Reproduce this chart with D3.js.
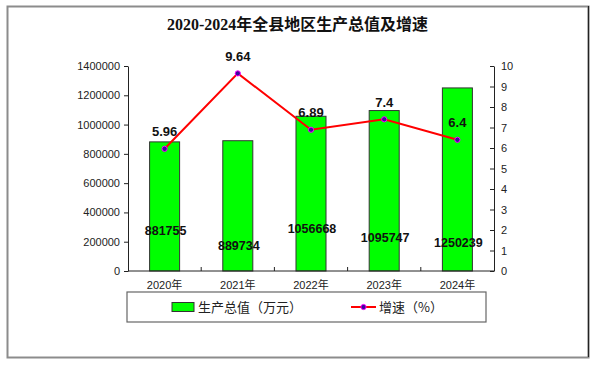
<!DOCTYPE html>
<html>
<head>
<meta charset="utf-8">
<script src="https://cdn.jsdelivr.net/npm/d3@7"></script>
<style>
  body { margin: 0; background: #fff; }
  svg { display: block; }
  .num { font-family: "Liberation Sans", Arial, sans-serif; }
  .cjk { font-family: "Liberation Sans", "Noto Sans CJK SC", sans-serif; }
</style>
</head>
<body>
<svg id="chart" width="595" height="367"></svg>
<script>
// data
var years = ["2020年", "2021年", "2022年", "2023年", "2024年"];
var gdp = [881755, 889734, 1056668, 1095747, 1250239];
var growth = [5.96, 9.64, 6.89, 7.4, 6.4];
var leftTicks = [0, 200000, 400000, 600000, 800000, 1000000, 1200000, 1400000];
var rightTicks = [0, 1, 2, 3, 4, 5, 6, 7, 8, 9, 10];

function drawChart() {
  var svg = d3.select("#chart");
  var W = 595, H = 367;
  var left = 128, right = 494, top = 66, bottom = 271;

  svg.append("rect").attr("width", W).attr("height", H).attr("fill", "#fff");

  // outer frame
  svg.append("rect")
    .attr("x", 7.5).attr("y", 6.5).attr("width", 581).attr("height", 351)
    .attr("fill", "none").attr("stroke", "#8c8c8c").attr("stroke-width", 2);
  svg.append("line")
    .attr("x1", 588.5).attr("x2", 588.5).attr("y1", 6).attr("y2", 357)
    .attr("stroke", "#222").attr("stroke-width", 1.2);

  // title
  svg.append("text")
    .attr("x", 297.5).attr("y", 30)
    .attr("text-anchor", "middle")
    .attr("textLength", 261).attr("lengthAdjust", "spacingAndGlyphs")
    .style("font-family", "'Liberation Serif', 'Noto Sans CJK SC', serif")
    .style("font-weight", "bold").style("font-size", "16px")
    .attr("fill", "#111")
    .text("2020-2024年全县地区生产总值及增速");

  //scales
  var x = d3.scaleBand().domain(years).range([left, right]).padding(0);
  var yL = d3.scaleLinear().domain([0, 1400000]).range([bottom, top]);
  var yR = d3.scaleLinear().domain([0, 10]).range([bottom, top]);
  var barW = x.bandwidth() * 0.41;

  // bars
  svg.selectAll(".bar")
    .data(gdp)
    .enter()
    .append("rect")
    .attr("class", "bar")
    .attr("x", function(d, i) { return x(years[i]) + x.bandwidth() / 2 - barW / 2; })
    .attr("y", function(d) { return yL(d); })
    .attr("width", barW)
    .attr("height", function(d) { return bottom - yL(d); })
    .attr("fill", "#00ff00")
    .attr("stroke", "#333")
    .attr("stroke-width", 1);

  // left axis
  var axL = svg.append("g")
    .attr("transform", "translate(" + left + ",0)")
    .call(d3.axisLeft(yL).tickValues(leftTicks).tickSize(4).tickSizeOuter(0)
      .tickPadding(4).tickFormat(d3.format("d")));
  axL.selectAll("text").attr("class", "num").style("font-size", "11px").attr("fill", "#222");
  axL.select(".domain").attr("stroke", "#222");
  axL.selectAll(".tick line").attr("stroke", "#222");

  // right axis
  var axR = svg.append("g")
    .attr("transform", "translate(" + right + ",0)")
    .call(d3.axisRight(yR).tickValues(rightTicks).tickSize(-4).tickSizeOuter(0)
      .tickPadding(7).tickFormat(d3.format("d")));
  axR.selectAll("text").attr("class", "num").style("font-size", "11px").attr("fill", "#222");
  axR.select(".domain").attr("stroke", "#222");
  axR.selectAll(".tick line").attr("stroke", "#222");

  // x axis line + ticks between categories
  svg.append("line")
    .attr("x1", left).attr("x2", right).attr("y1", bottom).attr("y2", bottom)
    .attr("stroke", "#222");
  svg.selectAll(".xtick")
    .data(years.slice(1))
    .enter()
    .append("line")
    .attr("x1", function(d) { return x(d); })
    .attr("x2", function(d) { return x(d); })
    .attr("y1", bottom).attr("y2", bottom - 4)
    .attr("stroke", "#222");
  svg.selectAll(".xlabel")
    .data(years)
    .enter()
    .append("text")
    .attr("class", "cjk")
    .attr("x", function(d) { return x(d) + x.bandwidth() / 2; })
    .attr("y", 289)
    .attr("text-anchor", "middle")
    .style("font-size", "11px")
    .attr("fill", "#222")
    .text(function(d) { return d; });

  // bar value labels (placed as in the original, not at bar tops)
  var barLabelY = [230, 245, 228, 237, 242];
  svg.selectAll(".barlabel")
    .data(gdp)
    .enter()
    .append("text")
    .attr("class", "num")
    .attr("x", function(d, i) { return x(years[i]) + x.bandwidth() / 2 + 1; })
    .attr("y", function(d, i) { return barLabelY[i] + 4.5; })
    .attr("text-anchor", "middle")
    .style("font-size", "12.5px").style("font-weight", "bold")
    .attr("fill", "#111")
    .text(function(d) { return d; });

  // growth line
  var line = d3.line()
    .x(function(d, i) { return x(years[i]) + x.bandwidth() / 2; })
    .y(function(d) { return yR(d); });
  svg.append("path")
    .datum(growth)
    .attr("d", line)
    .attr("fill", "none")
    .attr("stroke", "#ff0000")
    .attr("stroke-width", 2);
  svg.selectAll(".pt")
    .data(growth)
    .enter()
    .append("circle")
    .attr("cx", function(d, i) { return x(years[i]) + x.bandwidth() / 2; })
    .attr("cy", function(d) { return yR(d); })
    .attr("r", 2.6)
    .attr("fill", "#3a0a9a")
    .attr("stroke", "#ff00ff")
    .attr("stroke-width", 1);
  svg.selectAll(".ptlabel")
    .data(growth)
    .enter()
    .append("text")
    .attr("class", "num")
    .attr("x", function(d, i) { return x(years[i]) + x.bandwidth() / 2; })
    .attr("y", function(d) { return yR(d) - 12.5; })
    .attr("text-anchor", "middle")
    .style("font-size", "13px").style("font-weight", "bold")
    .attr("fill", "#111")
    .text(function(d) { return d; });

  // legend
  var lg = svg.append("g");
  lg.append("rect")
    .attr("x", 127).attr("y", 292).attr("width", 359).attr("height", 30)
    .attr("fill", "#fff").attr("stroke", "#666").attr("stroke-width", 1.2);
  lg.append("rect")
    .attr("x", 172).attr("y", 302.5).attr("width", 22).attr("height", 9)
    .attr("fill", "#00ff00").attr("stroke", "#333");
  lg.append("text")
    .attr("x", 198).attr("y", 312)
    .style("font-family", "'Noto Sans CJK SC', sans-serif")
    .style("font-size", "13px").attr("fill", "#222")
    .text("生产总值（万元）");
  lg.append("line")
    .attr("x1", 351).attr("x2", 376).attr("y1", 307).attr("y2", 307)
    .attr("stroke", "#ff0000").attr("stroke-width", 2);
  lg.append("circle")
    .attr("cx", 363.5).attr("cy", 307).attr("r", 2.6)
    .attr("fill", "#3a0a9a").attr("stroke", "#ff00ff");
  lg.append("text")
    .attr("x", 379).attr("y", 312)
    .style("font-family", "'Noto Sans CJK SC', sans-serif")
    .style("font-size", "13px").attr("fill", "#222")
    .text("增速（%）");
}

drawChart();
</script>
</body>
</html>
